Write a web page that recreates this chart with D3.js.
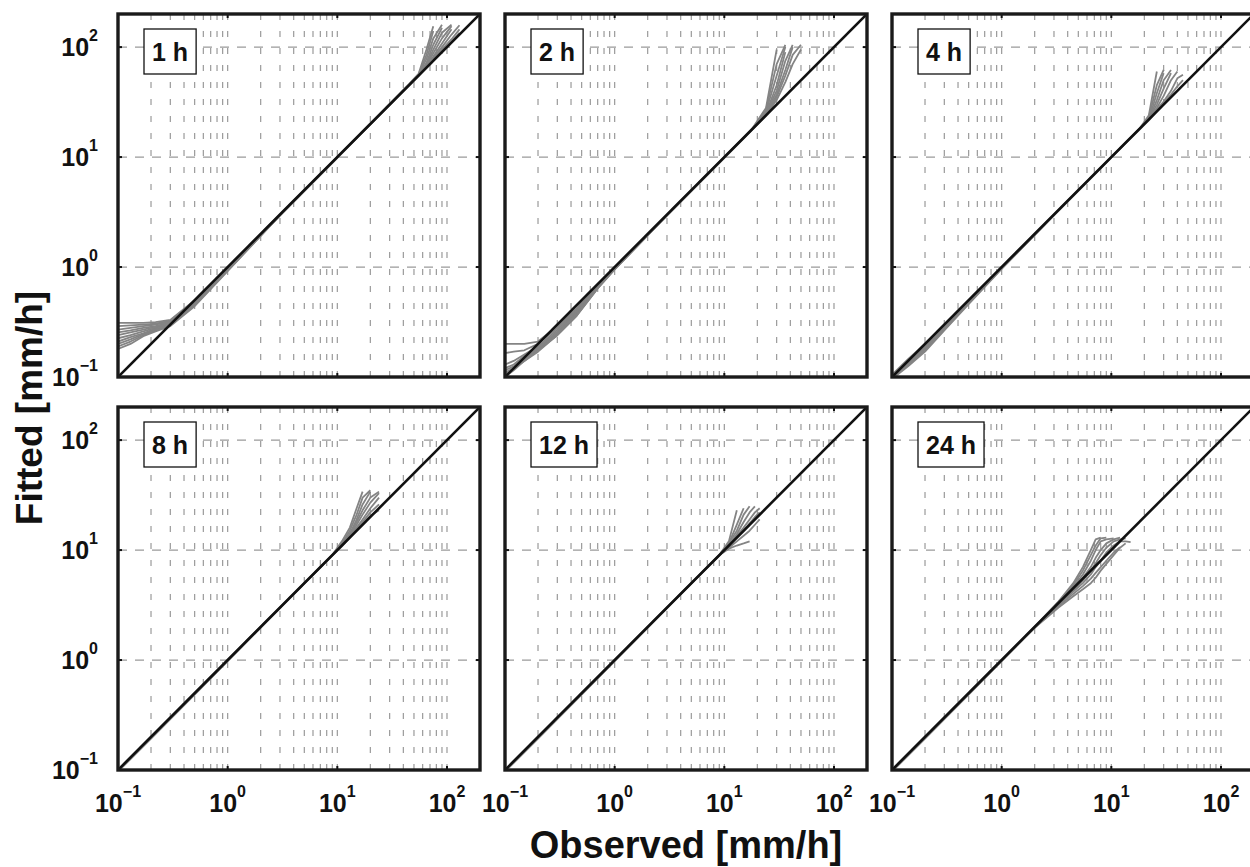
<!DOCTYPE html>
<html>
<head>
<meta charset="utf-8">
<script src="https://cdn.jsdelivr.net/npm/d3@7"></script>
<style>
  body { margin: 0; background: #fff; }
  svg { display: block; font-family: "Liberation Sans", Arial, Helvetica, sans-serif; }
</style>
</head>
<body>
<svg id="chart"></svg>
<script>
// panel labels
var durations = ["1 h", "2 h", "4 h", "8 h", "12 h", "24 h"];
// axis range and tick decades (both axes)
var axisRange = [0.1, 200];
var majorTicks = [0.1, 1, 10, 100];
var diag = [0.1, 200];

// observed quantiles per duration, and fitted values (one row per ensemble member)
var obs1h = [0.1, 0.13, 0.17, 0.22, 0.3, 0.5, 1, 3, 10, 30, 45, 55, 65, 75, 90, 110, 130];
var fit1h = [
  [0.31, 0.31, 0.31, 0.315, 0.33, 0.5, 0.98, 3.05, 10.1, 30.5, 46, 57, 95, 155, null, null, null],
  [0.29, 0.295, 0.3, 0.305, 0.325, 0.49, 0.97, 3, 10, 30.3, 45.5, 56, 85, 140, null, null, null],
  [0.27, 0.28, 0.29, 0.3, 0.32, 0.48, 0.96, 3, 10, 30.2, 45.3, 55.5, 78, 120, 160, null, null],
  [0.255, 0.265, 0.28, 0.29, 0.315, 0.47, 0.95, 2.98, 10, 30.1, 45.2, 55.3, 72, 105, 150, null, null],
  [0.24, 0.255, 0.27, 0.285, 0.31, 0.47, 0.95, 2.98, 9.95, 30, 45, 55, 70, 95, 135, 160, null],
  [0.225, 0.24, 0.26, 0.28, 0.305, 0.46, 0.94, 2.97, 9.95, 30, 45, 55, 68, 88, 120, 155, null],
  [0.21, 0.23, 0.25, 0.275, 0.3, 0.46, 0.94, 2.96, 9.9, 29.9, 45, 55, 67, 82, 108, 145, null],
  [0.2, 0.22, 0.245, 0.27, 0.3, 0.45, 0.93, 2.96, 9.9, 29.9, 44.8, 55, 66, 80, 100, 130, 158],
  [0.19, 0.21, 0.24, 0.265, 0.295, 0.45, 0.93, 2.95, 9.9, 29.8, 44.7, 54.8, 66, 78, 95, 118, 145],
  [0.18, 0.2, 0.235, 0.26, 0.29, 0.44, 0.92, 2.95, 9.85, 29.8, 44.6, 54.6, 65, 76, 92, 112, 135]
];

var obs2h = [0.1, 0.12, 0.15, 0.2, 0.3, 0.45, 0.7, 1, 3, 10, 18, 24, 30, 36, 42, 50];
var fit2h = [
  [0.2, 0.2, 0.2, 0.21, 0.29, 0.42, 0.68, 0.98, 3, 10, 18.2, 28, 95, null, null, null],
  [0.165, 0.17, 0.175, 0.2, 0.28, 0.41, 0.67, 0.97, 2.98, 10, 18.1, 27, 70, 105, null, null],
  [0.13, 0.14, 0.16, 0.19, 0.27, 0.4, 0.66, 0.97, 2.97, 9.95, 18, 26, 55, 100, null, null],
  [0.12, 0.13, 0.155, 0.185, 0.26, 0.39, 0.66, 0.96, 2.97, 9.95, 18, 25, 45, 90, null, null],
  [0.115, 0.125, 0.15, 0.18, 0.25, 0.38, 0.65, 0.96, 2.96, 9.9, 17.9, 25, 40, 75, 105, null],
  [0.11, 0.12, 0.145, 0.18, 0.25, 0.37, 0.65, 0.96, 2.96, 9.9, 17.9, 24.5, 37, 62, 100, null],
  [0.105, 0.12, 0.14, 0.175, 0.24, 0.36, 0.64, 0.95, 2.95, 9.9, 17.8, 24, 35, 55, 85, 105],
  [0.1, 0.115, 0.14, 0.17, 0.24, 0.36, 0.64, 0.95, 2.95, 9.85, 17.8, 24, 33, 48, 70, 95]
];

var obs4h = [0.1, 0.14, 0.2, 0.3, 0.5, 1, 3, 10, 18, 22, 26, 30, 35, 40, 45];
var fit4h = [
  [0.105, 0.145, 0.2, 0.3, 0.5, 1, 3, 10, 18, 24, 60, null, null, null, null],
  [0.1, 0.14, 0.19, 0.29, 0.49, 0.99, 3, 10, 18, 23, 45, 62, null, null, null],
  [0.1, 0.135, 0.185, 0.28, 0.48, 0.98, 2.98, 9.95, 18, 22, 38, 58, null, null, null],
  [0.098, 0.13, 0.18, 0.275, 0.47, 0.97, 2.97, 9.9, 17.9, 22, 33, 50, 62, null, null],
  [0.097, 0.13, 0.175, 0.27, 0.47, 0.97, 2.97, 9.9, 17.9, 22, 30, 42, 58, null, null],
  [0.096, 0.125, 0.17, 0.265, 0.46, 0.96, 2.96, 9.9, 17.8, 21.8, 28, 36, 50, 60, null],
  [0.1, 0.14, 0.2, 0.3, 0.5, 1, 3, 10, 17.8, 21.8, 27, 32, 40, 52, 56],
  [0.1, 0.135, 0.19, 0.285, 0.49, 0.98, 2.98, 9.95, 17.7, 21.6, 26, 31, 37, 44, 50]
];

var obs8h = [0.1, 0.14, 0.2, 0.3, 0.5, 1, 3, 9, 11, 13, 15, 17, 20, 24];
var fit8h = [
  [0.1, 0.14, 0.2, 0.3, 0.5, 1, 3, 9, 12, 16, 24, 34, null, null],
  [0.1, 0.14, 0.2, 0.3, 0.5, 1, 3, 9, 11.5, 15, 21, 30, 35, null],
  [0.098, 0.138, 0.197, 0.295, 0.49, 0.99, 2.98, 9, 11.5, 14, 19, 26, 34, null],
  [0.098, 0.137, 0.195, 0.293, 0.49, 0.99, 2.98, 9, 11, 14, 18, 23, 30, 34],
  [0.097, 0.135, 0.193, 0.29, 0.485, 0.98, 2.97, 8.95, 11, 13.5, 17, 21, 27, 33],
  [0.1, 0.14, 0.2, 0.3, 0.5, 1, 3, 8.95, 11, 13.5, 16, 19, 24, 30],
  [0.099, 0.139, 0.198, 0.297, 0.495, 0.99, 2.99, 8.9, 11, 13, 15.5, 18, 22, 26],
  [0.1, 0.14, 0.2, 0.3, 0.5, 1, 3, 8.9, 10.8, 13, 15, 17.5, 20.5, 23]
];

var obs12h = [0.1, 0.14, 0.2, 0.3, 0.5, 1, 3, 9, 11, 13, 15, 17, 19, 21];
var fit12h = [
  [0.1, 0.14, 0.2, 0.3, 0.5, 1, 3, 9, 12, 23, null, null, null, null],
  [0.1, 0.14, 0.2, 0.3, 0.5, 1, 3, 9, 11.5, 17, 24, null, null, null],
  [0.098, 0.138, 0.197, 0.295, 0.49, 0.99, 2.98, 9, 11.5, 15, 21, 25, null, null],
  [0.098, 0.137, 0.195, 0.293, 0.49, 0.99, 2.98, 9, 11, 14, 18, 22, 25, null],
  [0.097, 0.135, 0.193, 0.29, 0.485, 0.98, 2.97, 9, 11, 13.5, 16, 19, 22, 24],
  [0.1, 0.14, 0.2, 0.3, 0.5, 1, 3, 9, 11, 13, 15, 17.5, 20, 22],
  [0.099, 0.139, 0.198, 0.297, 0.495, 0.99, 2.99, 9, 10.5, 12, 13.5, 15, 17, 19],
  [0.1, 0.14, 0.2, 0.3, 0.5, 1, 3, 9, 10.3, 11, 11.5, 12, null, null]
];

var obs24h = [0.1, 0.14, 0.2, 0.3, 0.5, 1, 2, 3.3, 4.5, 5.5, 6.5, 7.2, 8, 9, 10.5, 12, 13.5, 15];
var fit24h = [
  [0.1, 0.14, 0.2, 0.3, 0.5, 1, 2, 3.4, 5, 7, 10, 12.5, 13, null, null, null, null, null],
  [0.1, 0.14, 0.2, 0.3, 0.5, 1, 2, 3.4, 4.8, 6.5, 9, 11, 12.8, 13, null, null, null, null],
  [0.098, 0.138, 0.197, 0.295, 0.49, 0.99, 2, 3.3, 4.6, 6, 8, 10, 12, 12.5, 12.8, null, null, null],
  [0.098, 0.137, 0.195, 0.293, 0.49, 0.99, 2, 3.3, 4.5, 5.6, 7, 8.5, 10, 11.5, 12.5, 13, null, null],
  [0.097, 0.135, 0.193, 0.29, 0.485, 0.98, 1.98, 3.2, 4.3, 5.3, 6.5, 7.6, 9, 10.5, 12, 12.5, 12.8, null],
  [0.1, 0.14, 0.2, 0.3, 0.5, 1, 1.98, 3.2, 4.2, 5, 6, 7, 8, 9.5, 11, 12, 12, 11.8],
  [0.099, 0.139, 0.198, 0.297, 0.495, 0.99, 1.97, 3.1, 4, 4.7, 5.5, 6.2, 7, 8, 9.5, 10.6, null, null],
  [0.1, 0.14, 0.2, 0.3, 0.5, 1, 1.96, 3, 3.8, 4.4, 5, 5.6, 6.5, 7.5, 9, 10.5, 11.5, null]
];

var panels = [
  { label: durations[0], obs: obs1h, fit: fit1h },
  { label: durations[1], obs: obs2h, fit: fit2h },
  { label: durations[2], obs: obs4h, fit: fit4h },
  { label: durations[3], obs: obs8h, fit: fit8h },
  { label: durations[4], obs: obs12h, fit: fit12h },
  { label: durations[5], obs: obs24h, fit: fit24h }
];

drawPanels(panels);

function drawPanels(panels) {
  var svgWidth = 1250, svgHeight = 867;
  var marginLeft = 118, marginTop = 14;
  var panelW = 362, panelH = 363;
  var gapX = 25, gapY = 30;

  var svg = d3.select("#chart")
    .attr("width", svgWidth)
    .attr("height", svgHeight);

  var x = d3.scaleLog().domain(axisRange).range([0, panelW]);
  var y = d3.scaleLog().domain(axisRange).range([panelH, 0]);

  var expo = function(v) { return Math.round(Math.log10(v)); };

  svg.append("defs").append("clipPath")
    .attr("id", "clip")
    .append("rect")
    .attr("width", panelW)
    .attr("height", panelH);

  var line = d3.line()
    .defined(function(d) { return d[1] != null; })
    .x(function(d) { return x(d[0]); })
    .y(function(d) { return y(d[1]); });

  var gridX = x.ticks().filter(function(v) { return v > axisRange[0] * 1.001 && v < axisRange[1] * 0.999; });
  var gridY = majorTicks.filter(function(v) { return v > axisRange[0] * 1.001; });

  panels.forEach(function(p, i) {
    var col = i % 3, row = Math.floor(i / 3);
    var g = svg.append("g")
      .attr("transform", "translate(" + (marginLeft + col * (panelW + gapX)) + "," + (marginTop + row * (panelH + gapY)) + ")");

    // dashed grid
    g.selectAll(".vgrid").data(gridX).enter().append("line")
      .attr("x1", function(d) { return x(d); })
      .attr("x2", function(d) { return x(d); })
      .attr("y1", panelH).attr("y2", 0)
      .attr("stroke", "#9a9a9a")
      .attr("stroke-width", 1.2)
      .attr("stroke-dasharray", "6,11");

    g.selectAll(".hgrid").data(gridY).enter().append("line")
      .attr("x1", 0).attr("x2", panelW)
      .attr("y1", function(d) { return y(d); })
      .attr("y2", function(d) { return y(d); })
      .attr("stroke", "#9a9a9a")
      .attr("stroke-width", 1.2)
      .attr("stroke-dasharray", "9,8");

    // ensemble members
    var plot = g.append("g").attr("clip-path", "url(#clip)");
    plot.selectAll(".member").data(p.fit).enter().append("path")
      .attr("fill", "none")
      .attr("stroke", "#848484")
      .attr("stroke-width", 1.8)
      .attr("stroke-linejoin", "round")
      .attr("d", function(r) { return line(d3.zip(p.obs, r)); });

    // 1:1 line
    plot.append("path")
      .attr("fill", "none")
      .attr("stroke", "#111")
      .attr("stroke-width", 2.6)
      .attr("d", line(diag.map(function(v) { return [v, v]; })));

    // small inward ticks at decades
    majorTicks.forEach(function(v) {
      g.append("line").attr("x1", x(v)).attr("x2", x(v)).attr("y1", panelH).attr("y2", panelH - 4)
        .attr("stroke", "#111").attr("stroke-width", 2);
      g.append("line").attr("x1", x(v)).attr("x2", x(v)).attr("y1", 0).attr("y2", 4)
        .attr("stroke", "#111").attr("stroke-width", 2);
      g.append("line").attr("y1", y(v)).attr("y2", y(v)).attr("x1", 0).attr("x2", 4)
        .attr("stroke", "#111").attr("stroke-width", 2);
      g.append("line").attr("y1", y(v)).attr("y2", y(v)).attr("x1", panelW).attr("x2", panelW - 4)
        .attr("stroke", "#111").attr("stroke-width", 2);
    });

    // label box
    var lab = g.append("g").attr("transform", "translate(26,15)");
    var box = lab.append("rect")
      .attr("height", 45)
      .attr("fill", "#fff")
      .attr("stroke", "#111")
      .attr("stroke-width", 1.3);
    var t = lab.append("text")
      .attr("x", 8).attr("y", 32)
      .attr("font-size", 25)
      .attr("font-weight", "bold")
      .attr("fill", "#111")
      .text(p.label);
    box.attr("width", t.node().getComputedTextLength() + 16);

    // frame
    g.append("rect")
      .attr("width", panelW).attr("height", panelH)
      .attr("fill", "none")
      .attr("stroke", "#1a1a1a")
      .attr("stroke-width", 3.4);

    // tick labels
    if (col === 0) {
      majorTicks.forEach(function(v) {
        var tx = g.append("text")
          .attr("x", -20).attr("y", y(v) + 9)
          .attr("text-anchor", "end")
          .attr("font-size", 25)
          .attr("font-weight", "bold")
          .attr("fill", "#111");
        tx.append("tspan").text("10");
        tx.append("tspan").attr("dy", -15).attr("font-size", 16).text(expo(v) < 0 ? "\u2212" + (-expo(v)) : expo(v));
      });
    }
    if (row === 1) {
      majorTicks.forEach(function(v) {
        var tx = g.append("text")
          .attr("x", x(v)).attr("y", panelH + 42)
          .attr("text-anchor", "middle")
          .attr("font-size", 25)
          .attr("font-weight", "bold")
          .attr("fill", "#111");
        tx.append("tspan").text("10");
        tx.append("tspan").attr("dy", -15).attr("font-size", 16).text(expo(v) < 0 ? "\u2212" + (-expo(v)) : expo(v));
      });
    }
  });

  // axis titles
  svg.append("text")
    .attr("transform", "translate(42,408) rotate(-90)")
    .attr("text-anchor", "middle")
    .attr("font-size", 37)
    .attr("font-weight", "bold")
    .attr("fill", "#111")
    .text("Fitted [mm/h]");

  svg.append("text")
    .attr("x", marginLeft + (3 * panelW + 2 * gapX) / 2)
    .attr("y", 858)
    .attr("text-anchor", "middle")
    .attr("font-size", 38)
    .attr("font-weight", "bold")
    .attr("fill", "#111")
    .text("Observed [mm/h]");
}
</script>
</body>
</html>
